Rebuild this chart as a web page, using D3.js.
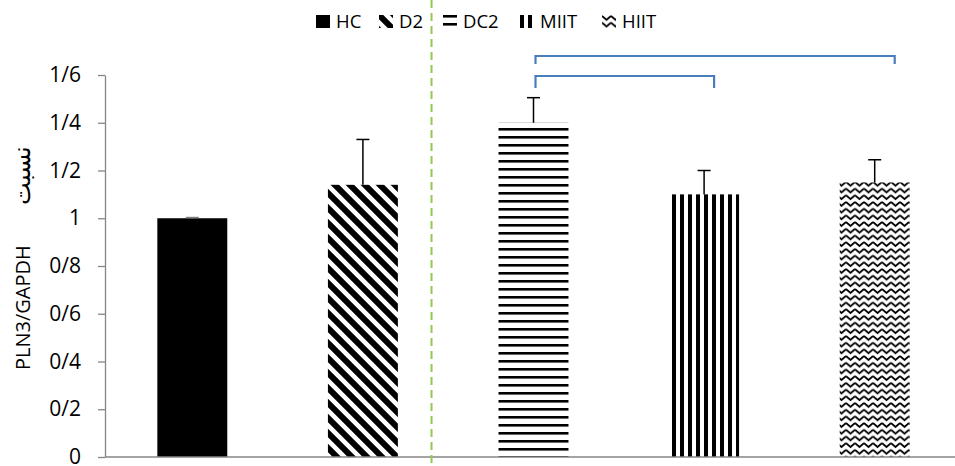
<!DOCTYPE html>
<html>
<head>
<meta charset="utf-8">
<script src="https://cdn.jsdelivr.net/npm/d3@7"></script>
<style>
  body { margin: 0; background: #fff; }
  svg { display: block; font-family: 'Open Sans', 'Liberation Sans', sans-serif; }
</style>
</head>
<body>
<svg width="955" height="466"></svg>
<script>
// data
const groups = ['HC', 'D2', 'DC2', 'MIIT', 'HIIT'];
const means = [1.0, 1.14, 1.40, 1.10, 1.15];
const errors = [0.003, 0.19, 0.105, 0.10, 0.095];
const tickValues = [0, 0.2, 0.4, 0.6, 0.8, 1, 1.2, 1.4, 1.6];
const tickLabels = ['0', '0/2', '0/4', '0/6', '0/8', '1', '1/2', '1/4', '1/6'];
// significance brackets: [from, to, level]
const brackets = [['DC2', 'MIIT', 0], ['DC2', 'HIIT', 1]];

var svg = d3.select('svg');
let w = 955, h = 466;
let mLeft = 105, mRight = 955, mTop = 75, mBottom = 457;

let x = d3.scaleBand().domain(groups).range([107, 960])
    .paddingInner(0.59).paddingOuter(0.295);
let y = d3.scaleLinear().domain([0, 1.6]).range([mBottom, mTop]);

// patterns
const defs = svg.append('defs');
function pat(id, pw, ph, draw) {
    let p = defs.append('pattern').attr('id', id)
        .attr('patternUnits', 'userSpaceOnUse')
        .attr('width', pw).attr('height', ph);
    p.append('rect').attr('width', pw).attr('height', ph).attr('fill', 'white');
    draw(p);
}
pat('diag', 15, 15, p => {
    p.append('path').attr('d', 'M-4,-4 L19,19 M-4,11 L4,19 M11,-4 L19,4')
        .attr('stroke', 'black').attr('stroke-width', 6);
});
pat('horiz', 8, 8, p => {
    p.append('rect').attr('x', 0).attr('y', 0).attr('width', 8).attr('height', 2.6).attr('fill', 'black');
});
pat('vert', 8, 8, p => {
    p.append('rect').attr('x', 0).attr('y', 0).attr('width', 4).attr('height', 8).attr('fill', 'black');
});
pat('wave', 9, 6.7, p => {
    p.append('path').attr('d', 'M0,1 L4.5,4.8 L9,1').attr('fill', 'none')
        .attr('stroke', 'black').attr('stroke-width', 1.8);
});
const fills = ['black', 'url(#diag)', 'url(#horiz)', 'url(#vert)', 'url(#wave)'];

// y axis
let yAxis = d3.axisLeft(y).tickValues(tickValues)
    .tickFormat((d, i) => tickLabels[i]).tickSize(7).tickSizeOuter(0);
let gy = svg.append('g').attr('transform', 'translate(' + mLeft + ',0)').call(yAxis);
gy.select('.domain').attr('stroke', '#868686').attr('stroke-width', 1.3);
gy.selectAll('.tick line').attr('stroke', '#868686').attr('stroke-width', 1.3);
gy.selectAll('.tick text').attr('x', -24).attr('font-size', 21)
    .attr('fill', '#000').attr('font-family', "'Open Sans', sans-serif");

// bars
svg.append('g').selectAll('rect').data(groups).enter().append('rect')
    .attr('x', d => x(d))
    .attr('y', (d, i) => y(means[i]))
    .attr('width', x.bandwidth())
    .attr('height', (d, i) => y(0) - y(means[i]))
    .attr('fill', (d, i) => fills[i]);

// error bars (upper only)
let eb = svg.append('g');
groups.forEach((g, i) => {
    let cx = x(g) + x.bandwidth() / 2;
    let col = i == 0 ? '#7f7f7f' : 'black';
    eb.append('line').attr('x1', cx).attr('x2', cx)
        .attr('y1', y(means[i])).attr('y2', y(means[i] + errors[i]))
        .attr('stroke', col).attr('stroke-width', 1.5);
    eb.append('line').attr('x1', cx - 6.5).attr('x2', cx + 6.5)
        .attr('y1', y(means[i] + errors[i])).attr('y2', y(means[i] + errors[i]))
        .attr('stroke', col).attr('stroke-width', 1.5);
});

// x axis line
svg.append('line').attr('x1', mLeft).attr('x2', mRight)
    .attr('y1', y(0)).attr('y2', y(0))
    .attr('stroke', '#868686').attr('stroke-width', 1.3);

// dashed divider between D2 and DC2
let divX = x('DC2') - 67;
svg.append('line').attr('x1', divX).attr('x2', divX)
    .attr('y1', 0).attr('y2', h)
    .attr('stroke', '#92c853').attr('stroke-width', 2)
    .attr('stroke-dasharray', '8,5');

// brackets
brackets.forEach(b => {
    let x1 = x(b[0]) + x.bandwidth() / 2 + 2;
    let x2 = x(b[1]) + x.bandwidth() / 2 + (b[2] == 0 ? 10 : 20);
    let yt = b[2] == 0 ? 76 : 56;
    let yb = b[2] == 0 ? 88 : 64;
    svg.append('path')
        .attr('d', 'M' + x1 + ',' + yb + ' V' + yt + ' H' + x2 + ' V' + yb)
        .attr('fill', 'none').attr('stroke', '#4a7ebb').attr('stroke-width', 2.2);
});

// y label
svg.append('text')
    .attr('transform', 'translate(30,370) rotate(-90)')
    .attr('font-size', 20)
    .text('PLN3/GAPDH');
svg.append('text')
    .attr('transform', 'translate(30,205) rotate(-90)')
    .attr('font-size', 24)
    .text('نسبت');

// legend
let legendX = [316, 379, 443, 520, 602];
let lg = svg.append('g');
groups.forEach((g, i) => {
    let item = lg.append('g').attr('transform', 'translate(' + legendX[i] + ',15)');
    item.append('rect').attr('width', 14).attr('height', 13)
        .attr('fill', fills[i]);
    item.append('text').attr('x', 20).attr('y', 13)
        .attr('font-size', 18.5).text(g);
});
</script>
</body>
</html>
